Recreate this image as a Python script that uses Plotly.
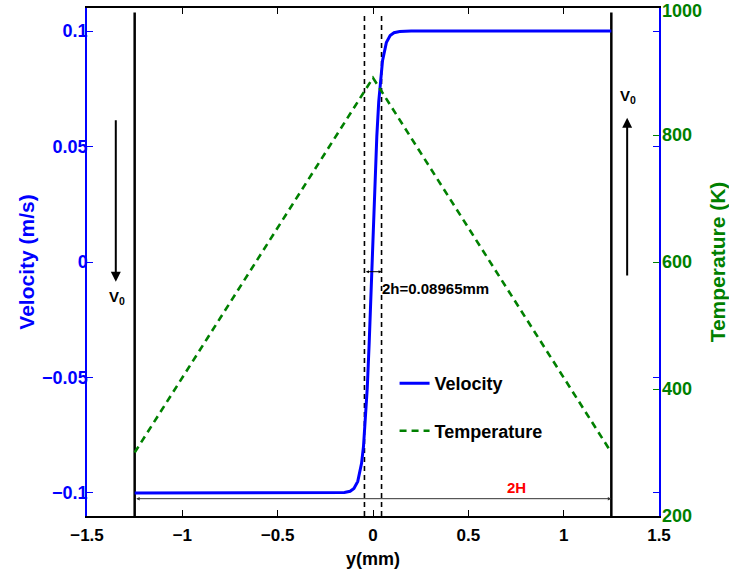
import plotly.graph_objects as go

# ---- data ----
vel_x = [-1.25, -0.5, -0.2, -0.15, -0.12, -0.10, -0.08, -0.06, -0.05, -0.04, -0.03, -0.02, -0.01,
         0.00, 0.01, 0.02, 0.03, 0.04, 0.05, 0.07, 0.09, 0.11, 0.14, 0.2, 0.5, 1.25]
vel_y = [-0.1, -0.1, -0.1, -0.0998, -0.0993, -0.0981, -0.095, -0.0872, -0.080, -0.0693, -0.0544, -0.035, -0.0121,
         0.0121, 0.035, 0.0544, 0.0693, 0.080, 0.0872, 0.095, 0.0981, 0.0993, 0.0998, 0.1, 0.1, 0.1]
temp_x = [-1.25, 0.0, 1.25]
temp_y = [300, 890, 300]

wall_x = [-1.25, 1.25]
wall_v = [-0.11, 0.108]
h_half = 0.08965 / 2

x_ticks = [-1.5, -1, -0.5, 0, 0.5, 1, 1.5]
x_tick_text = ["\u22121.5", "\u22121", "\u22120.5", "0", "0.5", "1", "1.5"]
v_ticks = [-0.1, -0.05, 0, 0.05, 0.1]
v_tick_text = ["\u22120.1", "\u22120.05", "0", "0.05", "0.1"]
t_ticks = [200, 400, 600, 800, 1000]
t_tick_text = ["200", "400", "600", "800", ""]   # top label placed just below the frame edge
t_top_label = "1000"

BLUE = "#0000ff"
GREEN = "#008000"
FONT = "Liberation Sans, Arial, sans-serif"

fig = go.Figure()

# walls
for wx in wall_x:
    fig.add_trace(go.Scatter(x=[wx, wx], y=wall_v, mode="lines",
                             line=dict(color="black", width=2.5), showlegend=False, hoverinfo="skip"))
# interface dashed lines
for hx in [-h_half, h_half]:
    fig.add_trace(go.Scatter(x=[hx, hx], y=[-0.11, 0.107], mode="lines",
                             line=dict(color="black", width=1.6, dash="5px,4px"),
                             showlegend=False, hoverinfo="skip"))

fig.add_trace(go.Scatter(x=vel_x, y=vel_y, mode="lines", name="Velocity",
                         line=dict(color=BLUE, width=3), legendgroup="a"))
fig.add_trace(go.Scatter(x=temp_x, y=temp_y, mode="lines", name="Temperature", yaxis="y2",
                         line=dict(color=GREEN, width=2.6, dash="7px,5px"), legendgroup="b"))

anns = []
# V0 arrows
anns.append(dict(x=-1.349, y=-0.0085, ax=-1.349, ay=0.062, xref="x", yref="y", axref="x", ayref="y",
                 showarrow=True, arrowhead=2, arrowsize=1, arrowwidth=2, arrowcolor="black", text=""))
anns.append(dict(x=1.333, y=0.0625, ax=1.333, ay=-0.0065, xref="x", yref="y", axref="x", ayref="y",
                 showarrow=True, arrowhead=2, arrowsize=1, arrowwidth=2, arrowcolor="black", text=""))
anns.append(dict(x=-1.343, y=-0.0155, xref="x", yref="y", text="V<sub>0</sub>", showarrow=False,
                 font=dict(family=FONT, size=15, color="black", weight="bold")))
anns.append(dict(x=1.34, y=0.0715, xref="x", yref="y", text="V<sub>0</sub>", showarrow=False,
                 font=dict(family=FONT, size=15, color="black", weight="bold")))
# 2h arrow
anns.append(dict(x=h_half, y=-0.0042, ax=-h_half, ay=-0.0042, xref="x", yref="y", axref="x", ayref="y",
                 showarrow=True, arrowhead=2, startarrowhead=2, arrowside="end+start", arrowsize=0.6,
                 arrowwidth=1, arrowcolor="black", text=""))
anns.append(dict(x=0.035, y=-0.0113, xref="x", yref="y", text="2h=0.08965mm", showarrow=False,
                 xanchor="left", font=dict(family=FONT, size=15, color="black", weight="bold")))
# 2H arrow
anns.append(dict(x=1.25, y=-0.1025, ax=-1.25, ay=-0.1025, xref="x", yref="y", axref="x", ayref="y",
                 showarrow=True, arrowhead=2, startarrowhead=2, arrowside="end+start", arrowsize=0.7,
                 arrowwidth=1, arrowcolor="#333333", text=""))
anns.append(dict(x=0.755, y=-0.0975, xref="x", yref="y", text="2H", showarrow=False,
                 font=dict(family=FONT, size=15, color="red", weight="bold")))
# top temperature tick label
anns.append(dict(x=1, y=t_ticks[-1], xref="paper", yref="y2", text=t_top_label, showarrow=False,
                 xanchor="left", yanchor="middle", xshift=1, yshift=-3,
                 font=dict(family=FONT, size=18, color=GREEN, weight="bold")))

fig.update_layout(
    width=729, height=574,
    margin=dict(l=87, r=70, t=8, b=58),
    paper_bgcolor="white", plot_bgcolor="white",
    font=dict(family=FONT, size=17, color="black", weight="bold"),
    annotations=anns,
    showlegend=True,
    legend=dict(x=0.5377, y=0.297, xanchor="left", yanchor="top", bgcolor="rgba(0,0,0,0)",
                tracegroupgap=21, font=dict(family=FONT, size=18, color="black", weight="bold")),
    xaxis=dict(range=[-1.5, 1.5], tickvals=x_ticks, ticktext=x_tick_text, ticks="inside", ticklen=6,
               tickcolor="black", showline=True, linecolor="black", linewidth=1.5, mirror="ticks",
               showgrid=False, zeroline=False, automargin=False, ticklabelstandoff=3,
               title=dict(text="y(mm)", standoff=8, font=dict(family=FONT, size=18, color="black", weight="bold")),
               tickfont=dict(family=FONT, size=17, color="black", weight="bold")),
    yaxis=dict(range=[-0.11, 0.11], tickvals=v_ticks, ticktext=v_tick_text, ticks="inside", ticklen=6,
               tickcolor=BLUE, showline=True, linecolor=BLUE, linewidth=1.5, mirror="ticks",
               showgrid=False, zeroline=False, automargin=False, ticklabelstandoff=-6,
               title=dict(text="Velocity (m/s)", standoff=2, font=dict(family=FONT, size=21, color=BLUE, weight="bold")),
               tickfont=dict(family=FONT, size=18, color=BLUE, weight="bold")),
    yaxis2=dict(range=[200, 1000], tickvals=t_ticks, ticktext=t_tick_text, overlaying="y", side="right",
                ticks="inside", ticklen=6,
                tickcolor=GREEN, showline=False, showgrid=False, zeroline=False, automargin=False,
                ticklabelstandoff=2,
                title=dict(text="Temperature (K)", standoff=20, font=dict(family=FONT, size=21, color=GREEN, weight="bold")),
                tickfont=dict(family=FONT, size=18, color=GREEN, weight="bold")),
)

fig.write_html("out.html", config={"displayModeBar": False},
               post_script="document.body.style.margin='0';")
